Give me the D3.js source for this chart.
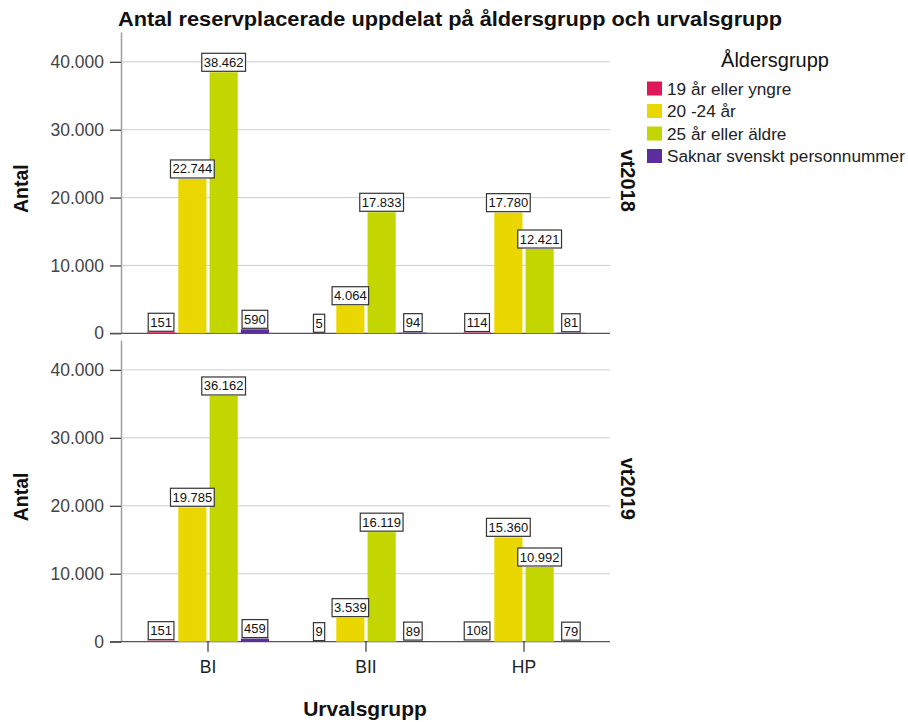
<!DOCTYPE html>
<html><head><meta charset="utf-8">
<script src="https://cdn.jsdelivr.net/npm/d3@7"></script>
<style>
body{margin:0;background:#fff;}
svg{display:block;font-family:"Liberation Sans",Arial,sans-serif;}
</style>
</head><body><svg id="c" width="908" height="722"></svg>
<script>
// ---- data ----
const categories = ["BI", "BII", "HP"];
const panels = ["vt2018", "vt2019"];
const ageGroups = ["19 år eller yngre", "20 -24 år", "25 år eller äldre", "Saknar svenskt personnummer"];
const colors = ["#E0185A", "#EAD700", "#C4D600", "#5B2D9E"];
const yTicks = [0, 10000, 20000, 30000, 40000];
// values per age group, in category order BI, BII, HP
const vt2018 = [
  [151, 5, 114],
  [22744, 4064, 17780],
  [38462, 17833, 12421],
  [590, 94, 81]
];
const vt2019 = [
  [151, 9, 108],
  [19785, 3539, 15360],
  [36162, 16119, 10992],
  [459, 89, 79]
];
const panelData = [vt2018, vt2019];

// ---- setup ----
const svg = d3.select("#c");
const loc = d3.formatLocale({decimal: ",", thousands: ".", grouping: [3], currency: ["", " kr"]});
const fmt = loc.format(",d");

const plotLeft = 121, plotRight = 610;
const panelTops = [32, 340], panelBottoms = [333.3, 641.7];
const yMax = 44400;

const x = d3.scaleBand().domain(categories).range([129, 603]).padding(0);
const xi = d3.scaleBand().domain(ageGroups).range([-61, 61]).paddingInner(0.1);
const color = d3.scaleOrdinal().domain(ageGroups).range(colors);

// title
svg.append("text")
  .attr("x", 450).attr("y", 26)
  .attr("text-anchor", "middle")
  .attr("font-size", 20).attr("font-weight", "bold").attr("fill", "#111")
  .attr("textLength", 664).attr("lengthAdjust", "spacingAndGlyphs")
  .text("Antal reservplacerade uppdelat på åldersgrupp och urvalsgrupp");

panels.forEach((p, pi) => {
  const data = panelData[pi];
  const y = d3.scaleLinear().domain([0, yMax]).range([panelBottoms[pi], panelTops[pi]]);
  const g = svg.append("g");

  // gridlines
  g.selectAll("line.grid").data(yTicks.filter(t => t > 0)).join("line")
    .attr("x1", plotLeft).attr("x2", plotRight)
    .attr("y1", d => y(d)).attr("y2", d => y(d))
    .attr("stroke", "#cfcfcf").attr("stroke-width", 1);

  // y axis
  const ax = g.append("g").attr("transform", `translate(${plotLeft},0)`)
    .call(d3.axisLeft(y).tickValues(yTicks).tickFormat(fmt).tickSize(11).tickSizeOuter(0).tickPadding(6));
  ax.select(".domain").attr("stroke", "#a0a0a0").attr("stroke-width", 1.5);
  ax.selectAll(".tick line").attr("stroke", "#444").attr("stroke-width", 1.3);
  ax.selectAll(".tick text").attr("font-size", 17.5).attr("fill", "#444")
    .attr("font-family", "\"Liberation Sans\",Arial,sans-serif");

  // baseline
  g.append("line")
    .attr("x1", plotLeft - 11).attr("x2", plotRight)
    .attr("y1", y(0)).attr("y2", y(0))
    .attr("stroke", "#555").attr("stroke-width", 1.3);

  // bars
  const rows = [];
  ageGroups.forEach((a, ai) => categories.forEach((c, ci) => rows.push({a, c, v: data[ai][ci]})));
  g.selectAll("rect.bar").data(rows).join("rect")
    .attr("x", d => x(d.c) + x.bandwidth() / 2 + xi(d.a))
    .attr("width", xi.bandwidth())
    .attr("y", d => y(d.v))
    .attr("height", d => Math.max(y(0) - y(d.v), 0))
    .attr("fill", d => color(d.a));

  // value labels
  const lg = g.selectAll("g.lab").data(rows).join("g")
    .attr("transform", d => `translate(${x(d.c) + x.bandwidth() / 2 + xi(d.a) + xi.bandwidth() / 2},${y(d.v) - 1})`);
  lg.append("rect").attr("fill", "#fff").attr("stroke", "#333").attr("stroke-width", 1.2);
  const texts = lg.append("text")
    .attr("text-anchor", "middle").attr("y", -4.5)
    .attr("font-size", 13).attr("fill", "#111")
    .text(d => fmt(d.v));
  texts.each(function (d) {
    const w = this.getComputedTextLength();
    d3.select(this.parentNode).select("rect")
      .attr("x", -w / 2 - 2).attr("width", w + 4)
      .attr("y", -18).attr("height", 18);
  });

  // y title
  const midY = (panelTops[pi] + panelBottoms[pi]) / 2;
  svg.append("text")
    .attr("transform", `translate(28,${midY + 6}) rotate(-90)`)
    .attr("text-anchor", "middle")
    .attr("font-size", 19.5).attr("font-weight", "bold").attr("fill", "#111")
    .text("Antal");

  // panel label
  svg.append("text")
    .attr("transform", `translate(621,${midY - 2}) rotate(90)`)
    .attr("text-anchor", "middle")
    .attr("font-size", 20).attr("font-weight", "bold").attr("fill", "#111")
    .text(p);

  if (pi === 1) {
    const xa = svg.append("g").attr("transform", `translate(0,${y(0)})`)
      .call(d3.axisBottom(x).tickSize(10).tickPadding(9));
    xa.select(".domain").remove();
    xa.selectAll(".tick line").attr("stroke", "#444").attr("stroke-width", 1.3);
    xa.selectAll(".tick text").attr("font-size", 17.5).attr("fill", "#222")
      .attr("font-family", "\"Liberation Sans\",Arial,sans-serif");
  }
});

// x title
svg.append("text")
  .attr("x", 365).attr("y", 716)
  .attr("text-anchor", "middle")
  .attr("font-size", 21).attr("font-weight", "bold").attr("fill", "#111")
  .text("Urvalsgrupp");

// legend
const leg = svg.append("g");
leg.append("text").attr("x", 775).attr("y", 67).attr("text-anchor", "middle")
  .attr("font-size", 20).attr("fill", "#111").text("Åldersgrupp");
const items = leg.selectAll("g.item").data(ageGroups).join("g")
  .attr("transform", (d, i) => `translate(647,${88.5 + i * 22.5})`);
items.append("rect").attr("x", 0).attr("y", -7).attr("width", 15).attr("height", 14)
  .attr("fill", d => color(d));
items.append("text").attr("x", 20).attr("y", 6).attr("font-size", 17.2).attr("fill", "#222")
  .text(d => d);
</script>
</body></html>
